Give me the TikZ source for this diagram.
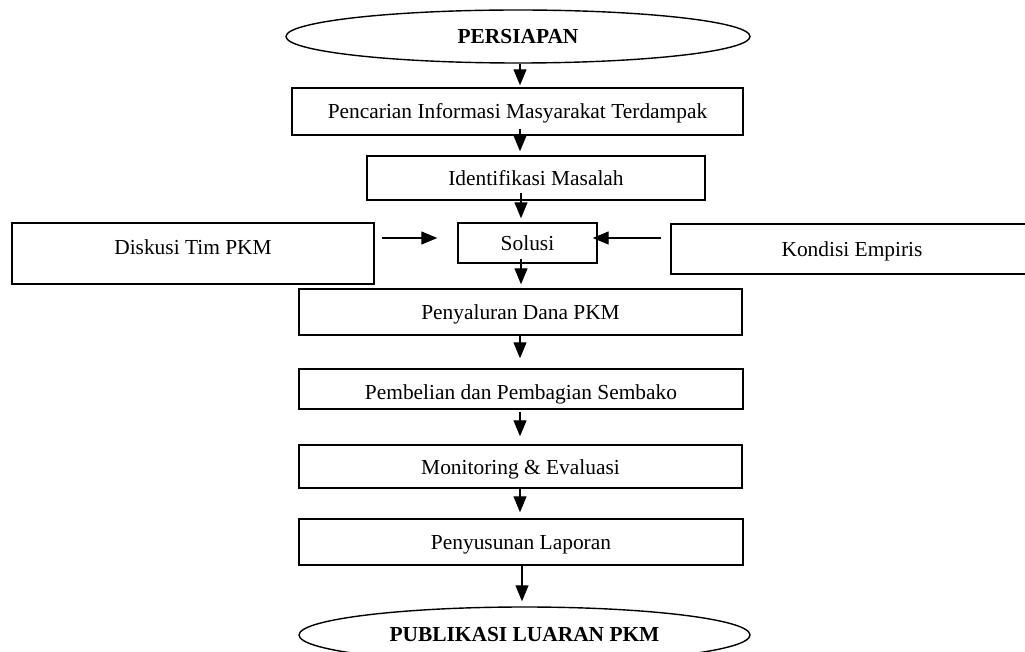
\documentclass[tikz,border=0pt]{standalone}
\usepackage{fontspec}
\setmainfont{Liberation Serif}
\usetikzlibrary{shapes.geometric,arrows.meta}
\begin{document}
\begin{tikzpicture}[x=1pt,y=-1pt,
  font=\fontsize{21.4}{25}\selectfont,
  box/.style={draw,line width=1.4pt,inner sep=0pt,rectangle,text height=19.5pt,text depth=4.5pt},
  oval/.style={draw,line width=1.4pt,inner sep=0pt,ellipse,text height=18pt,text depth=4.5pt,font=\fontsize{21.4}{25}\selectfont\bfseries},
  flow/.style={line width=1.3pt,-{Triangle[length=16pt,width=13pt]}}]
\useasboundingbox (0,0) rectangle (1025,652);
\clip (0,0) rectangle (1025,652);
\node[oval,minimum width=464pt,minimum height=53pt] (prep) at (518,36.5) {PERSIAPAN};
\node[box,minimum width=451pt,minimum height=47pt] (b1) at (517.5,111.5) {Pencarian Informasi Masyarakat Terdampak};
\node[box,minimum width=338pt,minimum height=44pt] (b2) at (536,178) {Identifikasi Masalah};
\node[box,minimum width=139pt,minimum height=40pt] (sol) at (527.5,243) {Solusi};
\node[box,minimum width=362pt,minimum height=61pt,label={[yshift=6pt]center:Diskusi Tim PKM}] (dis) at (193,253.5) {};
\node[box,minimum width=362pt,minimum height=50pt] (kon) at (852,249) {Kondisi Empiris};
\node[box,minimum width=443pt,minimum height=46pt] (dana) at (520.5,312) {Penyaluran Dana PKM};
\node[box,minimum width=444pt,minimum height=40pt,label={[yshift=-5pt]center:Pembelian dan Pembagian Sembako}] (pem) at (521,389) {};
\node[box,minimum width=443pt,minimum height=43pt] (mon) at (520.5,466.5) {Monitoring \& Evaluasi};
\node[box,minimum width=444pt,minimum height=46pt] (lap) at (521,542) {Penyusunan Laporan};
\node[oval,minimum width=451pt,minimum height=56pt] (pub) at (524.5,635) {PUBLIKASI LUARAN PKM};

\draw[flow] (prep.south -| 520,0) -- ([yshift=2pt]b1.north -| 520,0);
\draw[flow] ([yshift=7pt]b1.south -| 520,0) -- ([yshift=4pt]b2.north -| 520,0);
\draw[flow] ([yshift=8pt]b2.south -| 521,0) -- ([yshift=4pt]sol.north -| 521,0);
\draw[flow] ([yshift=5pt]sol.south -| 521,0) -- ([yshift=4pt]dana.north -| 521,0);
\draw[flow] (dana.south -| 520,0) -- ([yshift=10pt]pem.north -| 520,0);
\draw[flow] ([yshift=-2pt]pem.south -| 520,0) -- ([yshift=8pt]mon.north -| 520,0);
\draw[flow] (mon.south -| 520,0) -- ([yshift=6pt]lap.north -| 520,0);
\draw[flow] (lap.south -| 522,0) -- ([yshift=5pt]pub.north -| 522,0);
\draw[flow] ([xshift=7pt]dis.east |- 0,238) -- ([xshift=-20pt]sol.west |- 0,238);
\draw[flow] ([xshift=-9pt]kon.west |- 0,238) -- ([xshift=-5pt]sol.east |- 0,238);
\end{tikzpicture}
\end{document}
